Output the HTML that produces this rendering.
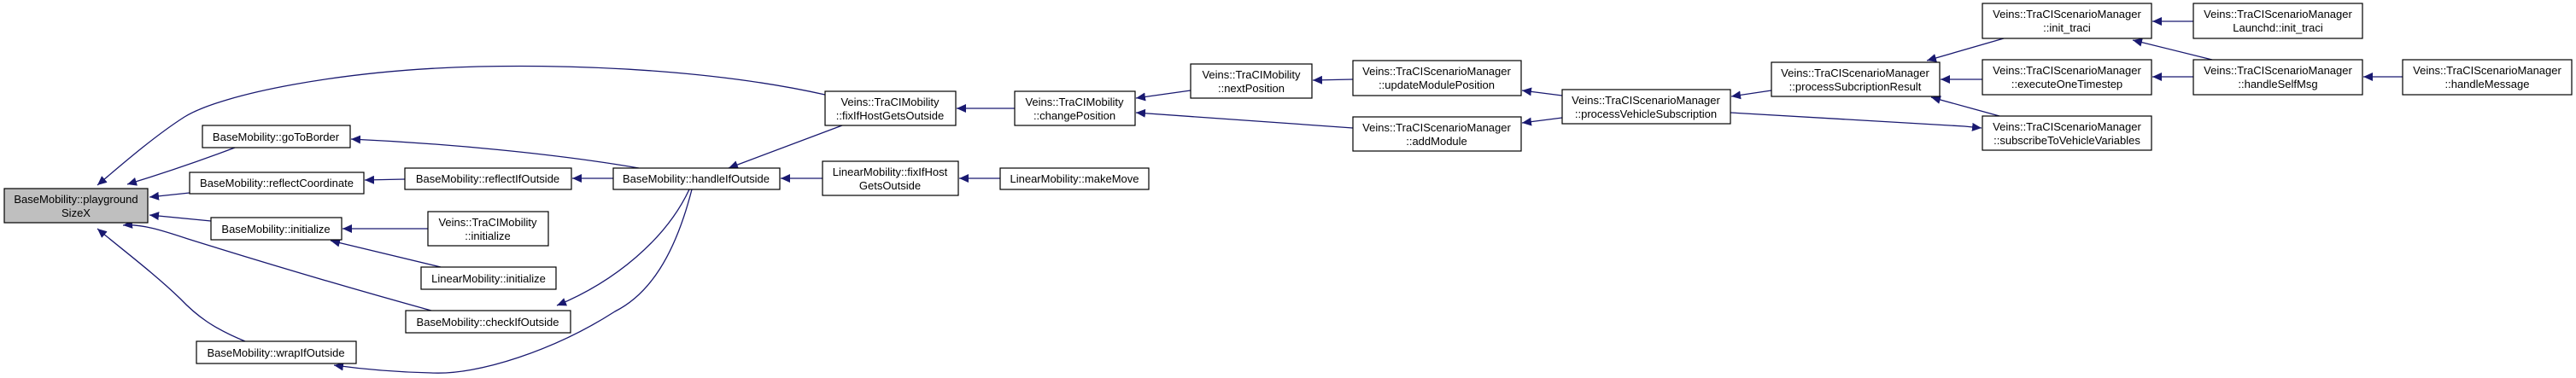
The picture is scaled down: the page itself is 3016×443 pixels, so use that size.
<!DOCTYPE html>
<html><head><meta charset="utf-8"><style>
html,body{margin:0;padding:0;background:#fff;}
svg{display:block;}
text{font-family:"Liberation Sans",sans-serif;font-size:13px;fill:#000;text-anchor:middle;}
.n{fill:#fff;stroke:#000;stroke-width:1.2;}
.e{fill:none;stroke:#191970;stroke-width:1.3;}
</style></head><body>
<svg width="3016" height="443" viewBox="0 0 3016 443" xmlns="http://www.w3.org/2000/svg">
<defs><marker id="a" markerWidth="12" markerHeight="10" refX="11" refY="5" orient="auto" markerUnits="userSpaceOnUse"><path d="M0,0 L11,5 L0,10 z" fill="#191970"/></marker></defs>
<g class="e" marker-end="url(#a)">
<path d="M966,111 C850,85 700,75 560,78 C400,82 260,110 216,137 C180,160 140,195 114,217"/>
<path d="M275,173 C230,190 185,205 149,216"/>
<path d="M222,226 L175,231"/>
<path d="M247,259 L175,252"/>
<path d="M505,364 C400,335 300,305 220,280 C190,270 165,262 144,264"/>
<path d="M287,400 C250,385 230,370 211,350 C180,320 140,290 114,268"/>
<path d="M748,197 C650,180 520,168 411,163"/>
<path d="M474,210 L427,211"/>
<path d="M718,209 L670,209"/>
<path d="M501,268 L401,268"/>
<path d="M516,313 L387,282"/>
<path d="M807,222 C780,280 720,330 652,358"/>
<path d="M810,222 C790,300 760,345 720,365 C650,410 560,440 505,437 C460,436 420,432 391,428"/>
<path d="M986,147 L853,197"/>
<path d="M963,209 L914,209"/>
<path d="M1188,127 L1120,127"/>
<path d="M1171,209 L1123,209"/>
<path d="M1394,106 L1330,115"/>
<path d="M1584,150 L1500,144 L1330,132"/>
<path d="M1584,93 L1537,94"/>
<path d="M1829,112 L1782,106"/>
<path d="M1829,138 L1782,144"/>
<path d="M2074,106 L2027,113"/>
<path d="M2026,132 L2300,148 L2320,150"/>
<path d="M2346,45 L2256,71"/>
<path d="M2321,93 L2272,93"/>
<path d="M2341,136 L2261,114"/>
<path d="M2568,25 L2520,25"/>
<path d="M2590,70 L2497,47"/>
<path d="M2568,90 L2520,90"/>
<path d="M2813,90 L2767,90"/>
</g>
<rect x="5" y="221" width="168" height="40" fill="#bfbfbf" stroke="#000" stroke-width="1.2"/>
<text x="89" y="238">BaseMobility::playground</text><text x="89" y="254">SizeX</text>
<rect class="n" x="237" y="147" width="173" height="26"/><text x="323" y="165">BaseMobility::goToBorder</text>
<rect class="n" x="222" y="202" width="204" height="25"/><text x="324" y="219">BaseMobility::reflectCoordinate</text>
<rect class="n" x="474" y="197" width="195" height="25"/><text x="571" y="214">BaseMobility::reflectIfOutside</text>
<rect class="n" x="247" y="255" width="153" height="26"/><text x="323" y="273">BaseMobility::initialize</text>
<rect class="n" x="501" y="248" width="141" height="40"/><text x="571" y="265">Veins::TraCIMobility</text><text x="571" y="281">::initialize</text>
<rect class="n" x="493" y="313" width="158" height="26"/><text x="572" y="331">LinearMobility::initialize</text>
<rect class="n" x="475" y="364" width="193" height="26"/><text x="571" y="382">BaseMobility::checkIfOutside</text>
<rect class="n" x="230" y="400" width="187" height="26"/><text x="323" y="418">BaseMobility::wrapIfOutside</text>
<rect class="n" x="718" y="197" width="195" height="25"/><text x="815" y="214">BaseMobility::handleIfOutside</text>
<rect class="n" x="966" y="107" width="153" height="40"/><text x="1042" y="124">Veins::TraCIMobility</text><text x="1042" y="140">::fixIfHostGetsOutside</text>
<rect class="n" x="963" y="189" width="159" height="40"/><text x="1042" y="206">LinearMobility::fixIfHost</text><text x="1042" y="222">GetsOutside</text>
<rect class="n" x="1188" y="107" width="141" height="40"/><text x="1258" y="124">Veins::TraCIMobility</text><text x="1258" y="140">::changePosition</text>
<rect class="n" x="1171" y="197" width="174" height="25"/><text x="1258" y="214">LinearMobility::makeMove</text>
<rect class="n" x="1394" y="75" width="142" height="40"/><text x="1465" y="92">Veins::TraCIMobility</text><text x="1465" y="108">::nextPosition</text>
<rect class="n" x="1584" y="71" width="197" height="41"/><text x="1682" y="88">Veins::TraCIScenarioManager</text><text x="1682" y="104">::updateModulePosition</text>
<rect class="n" x="1584" y="137" width="197" height="40"/><text x="1682" y="154">Veins::TraCIScenarioManager</text><text x="1682" y="170">::addModule</text>
<rect class="n" x="1829" y="105" width="197" height="40"/><text x="1927" y="122">Veins::TraCIScenarioManager</text><text x="1927" y="138">::processVehicleSubscription</text>
<rect class="n" x="2074" y="73" width="197" height="40"/><text x="2172" y="90">Veins::TraCIScenarioManager</text><text x="2172" y="106">::processSubcriptionResult</text>
<rect class="n" x="2321" y="4" width="198" height="41"/><text x="2420" y="21">Veins::TraCIScenarioManager</text><text x="2420" y="37">::init_traci</text>
<rect class="n" x="2568" y="4" width="198" height="41"/><text x="2667" y="21">Veins::TraCIScenarioManager</text><text x="2667" y="37">Launchd::init_traci</text>
<rect class="n" x="2321" y="70" width="198" height="41"/><text x="2420" y="87">Veins::TraCIScenarioManager</text><text x="2420" y="103">::executeOneTimestep</text>
<rect class="n" x="2568" y="70" width="198" height="41"/><text x="2667" y="87">Veins::TraCIScenarioManager</text><text x="2667" y="103">::handleSelfMsg</text>
<rect class="n" x="2813" y="70" width="198" height="41"/><text x="2912" y="87">Veins::TraCIScenarioManager</text><text x="2912" y="103">::handleMessage</text>
<rect class="n" x="2321" y="136" width="198" height="40"/><text x="2420" y="153">Veins::TraCIScenarioManager</text><text x="2420" y="169">::subscribeToVehicleVariables</text>
</svg>
</body></html>
